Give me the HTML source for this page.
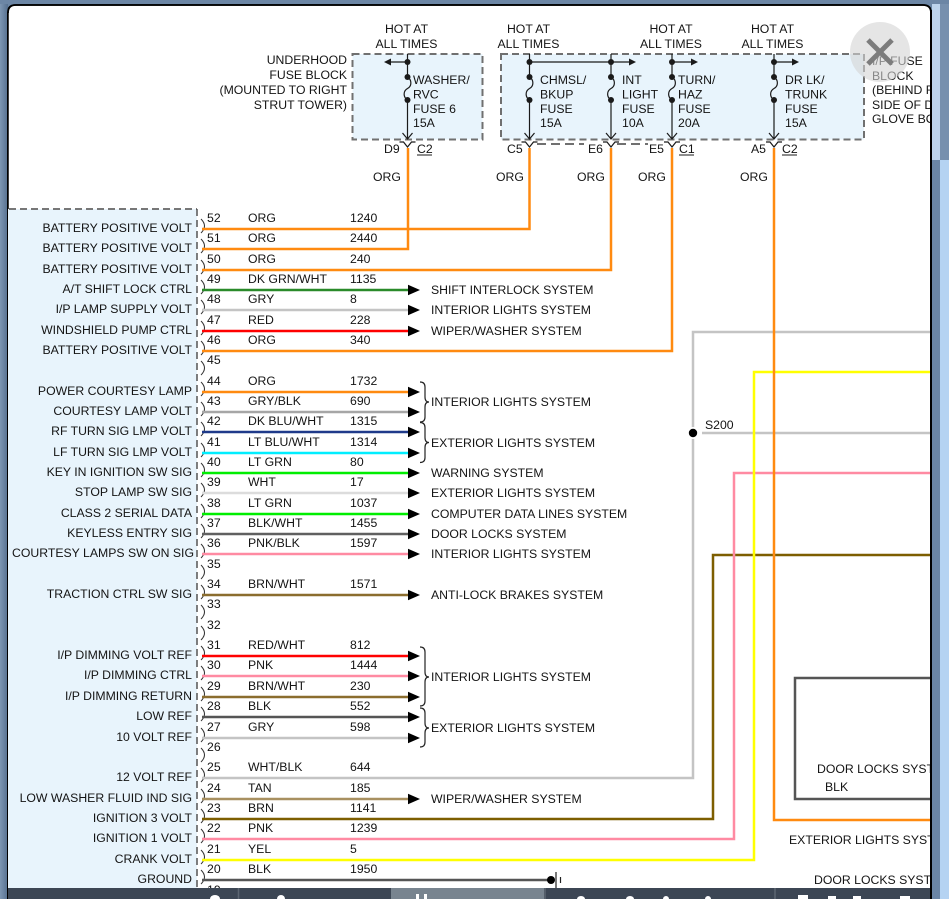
<!DOCTYPE html>
<html><head><meta charset="utf-8"><style>
html,body{margin:0;padding:0;background:#6c86a5;}
svg{display:block;}
text{font-family:"Liberation Sans",Arial,sans-serif;font-size:12.25px;fill:#141414;}
</style></head><body>
<svg width="949" height="899" viewBox="0 0 949 899" xmlns="http://www.w3.org/2000/svg">
<defs>
<linearGradient id="lf" x1="0" x2="1" y1="0" y2="0"><stop offset="0" stop-color="#7d96b3"/><stop offset="1" stop-color="#56708f"/></linearGradient>
</defs>
<rect width="949" height="899" fill="#6c86a5"/>
<rect x="0" y="0" width="8" height="899" fill="url(#lf)"/>
<path d="M8,12 Q8,5 15,5 L923,5 Q931,5 931,12 L931,899 L8,899 Z" fill="#ffffff" stroke="#000" stroke-width="1.5"/>

<!-- left connector box -->
<rect x="8" y="209" width="189" height="690" fill="#e8f4fc"/>
<line x1="9" y1="209" x2="197" y2="209" stroke="#777" stroke-width="2" stroke-dasharray="7 4"/>
<line x1="197" y1="209" x2="197" y2="899" stroke="#555" stroke-width="1.5" stroke-dasharray="7 4"/>

<!-- top fuse blocks -->
<rect x="352.5" y="54" width="130" height="85.5" fill="#e8f4fc" stroke="#707070" stroke-width="2" stroke-dasharray="7 4"/>
<rect x="501" y="54" width="363" height="85.5" fill="#e8f4fc" stroke="#707070" stroke-width="2" stroke-dasharray="7 4"/>

<text x="406.5" y="33" text-anchor="middle">HOT AT</text>
<text x="406.5" y="48" text-anchor="middle">ALL TIMES</text>
<text x="528.5" y="33" text-anchor="middle">HOT AT</text>
<text x="528.5" y="48" text-anchor="middle">ALL TIMES</text>
<text x="671" y="33" text-anchor="middle">HOT AT</text>
<text x="671" y="48" text-anchor="middle">ALL TIMES</text>
<text x="772.5" y="33" text-anchor="middle">HOT AT</text>
<text x="772.5" y="48" text-anchor="middle">ALL TIMES</text>

<text x="347" y="64" text-anchor="end">UNDERHOOD</text>
<text x="347" y="79" text-anchor="end">FUSE BLOCK</text>
<text x="347" y="94" text-anchor="end">(MOUNTED TO RIGHT</text>
<text x="347" y="109" text-anchor="end">STRUT TOWER)</text>

<text x="872" y="65">I/P FUSE</text>
<text x="872" y="80">BLOCK</text>
<text x="872" y="94">(BEHIND RIGHT</text>
<text x="872" y="109">SIDE OF DASH</text>
<text x="872" y="123">GLOVE BOX)</text>

<g stroke="#1a1a1a" stroke-width="1.2" fill="none">
<line x1="407.5" y1="54" x2="407.5" y2="77"/><line x1="407.5" y1="100" x2="407.5" y2="139"/>
<path d="M407.5,77 C412,80 412,86 407.5,88.5 C403,91 403,97 407.5,100"/>
<path d="M402.5,133 L407.5,139 L412.5,133"/>
<line x1="407.5" y1="62" x2="390" y2="62"/>
<path d="M399.5,142 L403.5,142 L407.5,147 L411.5,142 L415.5,142"/>

<line x1="529.5" y1="54" x2="529.5" y2="77"/><line x1="529.5" y1="100" x2="529.5" y2="139"/>
<path d="M529.5,77 C534,80 534,86 529.5,88.5 C525,91 525,97 529.5,100"/>
<path d="M524.5,133 L529.5,139 L534.5,133"/>
<path d="M521.5,142 L525.5,142 L529.5,147 L533.5,142 L537.5,142"/>

<line x1="611" y1="54" x2="611" y2="77"/><line x1="611" y1="100" x2="611" y2="139"/>
<path d="M611,77 C615.5,80 615.5,86 611,88.5 C606.5,91 606.5,97 611,100"/>
<path d="M606,133 L611,139 L616,133"/>
<path d="M603,142 L607,142 L611,147 L615,142 L619,142"/>

<line x1="672" y1="54" x2="672" y2="77"/><line x1="672" y1="100" x2="672" y2="139"/>
<path d="M672,77 C676.5,80 676.5,86 672,88.5 C667.5,91 667.5,97 672,100"/>
<path d="M667,133 L672,139 L677,133"/>
<path d="M664,142 L668,142 L672,147 L676,142 L680,142"/>

<line x1="774" y1="54" x2="774" y2="77"/><line x1="774" y1="100" x2="774" y2="139"/>
<path d="M774,77 C778.5,80 778.5,86 774,88.5 C769.5,91 769.5,97 774,100"/>
<path d="M769,133 L774,139 L779,133"/>
<path d="M766,142 L770,142 L774,147 L778,142 L782,142"/>

<line x1="529.5" y1="62" x2="630" y2="62"/>
<line x1="672" y1="62" x2="692" y2="62"/>
<line x1="774" y1="62" x2="793" y2="62"/>
<line x1="537" y1="144" x2="584" y2="144" stroke-dasharray="9 5"/>
<line x1="617" y1="144" x2="648" y2="144" stroke-dasharray="9 5"/>
</g>
<g fill="#1a1a1a">
<polygon points="384,62 391,58.5 391,65.5"/>
<polygon points="636,62 629,58.5 629,65.5"/>
<polygon points="698,62 691,58.5 691,65.5"/>
<polygon points="799,62 792,58.5 792,65.5"/>
<circle cx="407.5" cy="62" r="3"/><circle cx="407.5" cy="77" r="3"/><circle cx="407.5" cy="100" r="3"/>
<circle cx="529.5" cy="62" r="3"/><circle cx="529.5" cy="77" r="3"/><circle cx="529.5" cy="100" r="3"/>
<circle cx="611" cy="62" r="3"/><circle cx="611" cy="77" r="3"/><circle cx="611" cy="100" r="3"/>
<circle cx="672" cy="62" r="3"/><circle cx="672" cy="77" r="3"/><circle cx="672" cy="100" r="3"/>
<circle cx="774" cy="62" r="3"/><circle cx="774" cy="77" r="3"/><circle cx="774" cy="100" r="3"/>
</g>

<text x="413" y="84">WASHER/</text><text x="413" y="98.5">RVC</text><text x="413" y="113">FUSE 6</text><text x="413" y="127">15A</text>
<text x="540" y="84">CHMSL/</text><text x="540" y="98.5">BKUP</text><text x="540" y="113">FUSE</text><text x="540" y="127">15A</text>
<text x="622" y="84">INT</text><text x="622" y="98.5">LIGHT</text><text x="622" y="113">FUSE</text><text x="622" y="127">10A</text>
<text x="678" y="84">TURN/</text><text x="678" y="98.5">HAZ</text><text x="678" y="113">FUSE</text><text x="678" y="127">20A</text>
<text x="785" y="84">DR LK/</text><text x="785" y="98.5">TRUNK</text><text x="785" y="113">FUSE</text><text x="785" y="127">15A</text>

<text x="384" y="153">D9</text><text x="417" y="153">C2</text><line x1="417" y1="155" x2="432" y2="155" stroke="#1a1a1a" stroke-width="1"/>
<text x="507" y="153">C5</text>
<text x="588" y="153">E6</text>
<text x="649" y="153">E5</text><text x="679" y="153">C1</text><line x1="679" y1="155" x2="694" y2="155" stroke="#1a1a1a" stroke-width="1"/>
<text x="751" y="153">A5</text><text x="782" y="153">C2</text><line x1="782" y1="155" x2="797" y2="155" stroke="#1a1a1a" stroke-width="1"/>

<text x="373" y="181">ORG</text>
<text x="496" y="181">ORG</text>
<text x="577" y="181">ORG</text>
<text x="638" y="181">ORG</text>
<text x="740" y="181">ORG</text>

<g stroke="#333" stroke-width="1" fill="none">
<path d="M201,219 Q208,226 201,233"/><path d="M201,239 Q208,246 201,253"/><path d="M201,260 Q208,267 201,274"/>
<path d="M201,280 Q208,287 201,294"/><path d="M201,300 Q208,307 201,314"/><path d="M201,321 Q208,328 201,335"/>
<path d="M201,341 Q208,348 201,355"/><path d="M201,361 Q208,368 201,375"/><path d="M201,382 Q208,389 201,396"/>
<path d="M201,402 Q208,409 201,416"/><path d="M201,422 Q208,429 201,436"/><path d="M201,443 Q208,450 201,457"/>
<path d="M201,463 Q208,470 201,477"/><path d="M201,483 Q208,490 201,497"/><path d="M201,504 Q208,511 201,518"/>
<path d="M201,524 Q208,531 201,538"/><path d="M201,544 Q208,551 201,558"/><path d="M201,565 Q208,572 201,579"/>
<path d="M201,585 Q208,592 201,599"/><path d="M201,605 Q208,612 201,619"/><path d="M201,626 Q208,633 201,640"/>
<path d="M201,646 Q208,653 201,660"/><path d="M201,666 Q208,673 201,680"/><path d="M201,687 Q208,694 201,701"/>
<path d="M201,707 Q208,714 201,721"/><path d="M201,728 Q208,735 201,742"/><path d="M201,748 Q208,755 201,762"/>
<path d="M201,768 Q208,775 201,782"/><path d="M201,789 Q208,796 201,803"/><path d="M201,809 Q208,816 201,823"/>
<path d="M201,829 Q208,836 201,843"/><path d="M201,850 Q208,857 201,864"/><path d="M201,870 Q208,877 201,884"/>
</g>

<g text-anchor="end">
<text x="192" y="232">BATTERY POSITIVE VOLT</text>
<text x="192" y="252">BATTERY POSITIVE VOLT</text>
<text x="192" y="273">BATTERY POSITIVE VOLT</text>
<text x="192" y="293">A/T SHIFT LOCK CTRL</text>
<text x="192" y="313">I/P LAMP SUPPLY VOLT</text>
<text x="192" y="334">WINDSHIELD PUMP CTRL</text>
<text x="192" y="354">BATTERY POSITIVE VOLT</text>
<text x="192" y="395">POWER COURTESY LAMP</text>
<text x="192" y="415">COURTESY LAMP VOLT</text>
<text x="192" y="435">RF TURN SIG LMP VOLT</text>
<text x="192" y="456">LF TURN SIG LMP VOLT</text>
<text x="192" y="476">KEY IN IGNITION SW SIG</text>
<text x="192" y="496">STOP LAMP SW SIG</text>
<text x="192" y="517">CLASS 2 SERIAL DATA</text>
<text x="192" y="537">KEYLESS ENTRY SIG</text>
<text x="194" y="557">COURTESY LAMPS SW ON SIG</text>
<text x="192" y="598">TRACTION CTRL SW SIG</text>
<text x="192" y="659">I/P DIMMING VOLT REF</text>
<text x="192" y="679">I/P DIMMING CTRL</text>
<text x="192" y="700">I/P DIMMING RETURN</text>
<text x="192" y="720">LOW REF</text>
<text x="192" y="741">10 VOLT REF</text>
<text x="192" y="781">12 VOLT REF</text>
<text x="192" y="802">LOW WASHER FLUID IND SIG</text>
<text x="192" y="822">IGNITION 3 VOLT</text>
<text x="192" y="842">IGNITION 1 VOLT</text>
<text x="192" y="863">CRANK VOLT</text>
<text x="192" y="883">GROUND</text>
</g>

<text x="207" y="222">52</text><text x="248" y="222">ORG</text><text x="350" y="222">1240</text>
<text x="207" y="242">51</text><text x="248" y="242">ORG</text><text x="350" y="242">2440</text>
<text x="207" y="263">50</text><text x="248" y="263">ORG</text><text x="350" y="263">240</text>
<text x="207" y="283">49</text><text x="248" y="283">DK GRN/WHT</text><text x="350" y="283">1135</text>
<text x="207" y="303">48</text><text x="248" y="303">GRY</text><text x="350" y="303">8</text>
<text x="207" y="324">47</text><text x="248" y="324">RED</text><text x="350" y="324">228</text>
<text x="207" y="344">46</text><text x="248" y="344">ORG</text><text x="350" y="344">340</text>
<text x="207" y="364">45</text>
<text x="207" y="385">44</text><text x="248" y="385">ORG</text><text x="350" y="385">1732</text>
<text x="207" y="405">43</text><text x="248" y="405">GRY/BLK</text><text x="350" y="405">690</text>
<text x="207" y="425">42</text><text x="248" y="425">DK BLU/WHT</text><text x="350" y="425">1315</text>
<text x="207" y="446">41</text><text x="248" y="446">LT BLU/WHT</text><text x="350" y="446">1314</text>
<text x="207" y="466">40</text><text x="248" y="466">LT GRN</text><text x="350" y="466">80</text>
<text x="207" y="486">39</text><text x="248" y="486">WHT</text><text x="350" y="486">17</text>
<text x="207" y="507">38</text><text x="248" y="507">LT GRN</text><text x="350" y="507">1037</text>
<text x="207" y="527">37</text><text x="248" y="527">BLK/WHT</text><text x="350" y="527">1455</text>
<text x="207" y="547">36</text><text x="248" y="547">PNK/BLK</text><text x="350" y="547">1597</text>
<text x="207" y="568">35</text>
<text x="207" y="588">34</text><text x="248" y="588">BRN/WHT</text><text x="350" y="588">1571</text>
<text x="207" y="608">33</text>
<text x="207" y="629">32</text>
<text x="207" y="649">31</text><text x="248" y="649">RED/WHT</text><text x="350" y="649">812</text>
<text x="207" y="669">30</text><text x="248" y="669">PNK</text><text x="350" y="669">1444</text>
<text x="207" y="690">29</text><text x="248" y="690">BRN/WHT</text><text x="350" y="690">230</text>
<text x="207" y="710">28</text><text x="248" y="710">BLK</text><text x="350" y="710">552</text>
<text x="207" y="731">27</text><text x="248" y="731">GRY</text><text x="350" y="731">598</text>
<text x="207" y="751">26</text>
<text x="207" y="771">25</text><text x="248" y="771">WHT/BLK</text><text x="350" y="771">644</text>
<text x="207" y="792">24</text><text x="248" y="792">TAN</text><text x="350" y="792">185</text>
<text x="207" y="812">23</text><text x="248" y="812">BRN</text><text x="350" y="812">1141</text>
<text x="207" y="832">22</text><text x="248" y="832">PNK</text><text x="350" y="832">1239</text>
<text x="207" y="853">21</text><text x="248" y="853">YEL</text><text x="350" y="853">5</text>
<text x="207" y="873">20</text><text x="248" y="873">BLK</text><text x="350" y="873">1950</text>
<text x="207" y="894">19</text>

<g stroke-width="2.5" fill="none">
<line x1="202" y1="290" x2="409" y2="290" stroke="#2a8a2a"/>
<line x1="202" y1="310" x2="409" y2="310" stroke="#c4c4c4"/>
<line x1="202" y1="331" x2="409" y2="331" stroke="#ff0000"/>
<line x1="202" y1="392" x2="409" y2="392" stroke="#ff8a10"/>
<line x1="202" y1="412" x2="409" y2="412" stroke="#a6a6a6"/>
<line x1="202" y1="432" x2="409" y2="432" stroke="#1f3a8a"/>
<line x1="202" y1="453" x2="409" y2="453" stroke="#00eeff"/>
<line x1="202" y1="473" x2="409" y2="473" stroke="#00ee00"/>
<line x1="202" y1="493" x2="409" y2="493" stroke="#dcdcdc"/>
<line x1="202" y1="514" x2="409" y2="514" stroke="#00ee00"/>
<line x1="202" y1="534" x2="409" y2="534" stroke="#606060"/>
<line x1="202" y1="554" x2="409" y2="554" stroke="#ff8aa2"/>
<line x1="202" y1="595" x2="409" y2="595" stroke="#8b6d2e"/>
<line x1="202" y1="656" x2="409" y2="656" stroke="#ff0000"/>
<line x1="202" y1="676" x2="409" y2="676" stroke="#ff8aa2"/>
<line x1="202" y1="697" x2="409" y2="697" stroke="#8b6d2e"/>
<line x1="202" y1="717" x2="409" y2="717" stroke="#555555"/>
<line x1="202" y1="738" x2="409" y2="738" stroke="#c4c4c4"/>
<line x1="202" y1="799" x2="409" y2="799" stroke="#a89060"/>
<line x1="202" y1="880" x2="548" y2="880" stroke="#555555"/>
</g>
<g fill="#000">
<polygon points="408,284.7 420,290 408,295.3"/>
<polygon points="408,304.7 420,310 408,315.3"/>
<polygon points="408,325.7 420,331 408,336.3"/>
<polygon points="408,386.7 420,392 408,397.3"/>
<polygon points="408,406.7 420,412 408,417.3"/>
<polygon points="408,426.7 420,432 408,437.3"/>
<polygon points="408,447.7 420,453 408,458.3"/>
<polygon points="408,467.7 420,473 408,478.3"/>
<polygon points="408,487.7 420,493 408,498.3"/>
<polygon points="408,508.7 420,514 408,519.3"/>
<polygon points="408,528.7 420,534 408,539.3"/>
<polygon points="408,548.7 420,554 408,559.3"/>
<polygon points="408,589.7 420,595 408,600.3"/>
<polygon points="408,650.7 420,656 408,661.3"/>
<polygon points="408,670.7 420,676 408,681.3"/>
<polygon points="408,691.7 420,697 408,702.3"/>
<polygon points="408,711.7 420,717 408,722.3"/>
<polygon points="408,732.7 420,738 408,743.3"/>
<polygon points="408,793.7 420,799 408,804.3"/>
<circle cx="551" cy="880" r="4"/>
</g>
<g stroke="#222" stroke-width="1.2" fill="none">
<line x1="556" y1="872" x2="556" y2="889"/>
<line x1="560.5" y1="877" x2="560.5" y2="883"/>
<path d="M420,382 Q425,382 425,387 L425,397 Q425,402 429,402 Q425,402 425,407 L425,417 Q425,422 420,422"/>
<path d="M420,422.5 Q425,422.5 425,427.5 L425,437.5 Q425,442.5 429,442.5 Q425,442.5 425,447.5 L425,457.5 Q425,462.5 420,462.5"/>
<path d="M420,647 Q425,647 425,652 L425,672 Q425,677 429,677 Q425,677 425,682 L425,701 Q425,706 420,706"/>
<path d="M420,708 Q425,708 425,713 L425,723 Q425,728 429,728 Q425,728 425,733 L425,742 Q425,747 420,747"/>
</g>

<text x="431" y="294">SHIFT INTERLOCK SYSTEM</text>
<text x="431" y="314">INTERIOR LIGHTS SYSTEM</text>
<text x="431" y="335">WIPER/WASHER SYSTEM</text>
<text x="431" y="406">INTERIOR LIGHTS SYSTEM</text>
<text x="431" y="447">EXTERIOR LIGHTS SYSTEM</text>
<text x="431" y="477">WARNING SYSTEM</text>
<text x="431" y="497">EXTERIOR LIGHTS SYSTEM</text>
<text x="431" y="518">COMPUTER DATA LINES SYSTEM</text>
<text x="431" y="538">DOOR LOCKS SYSTEM</text>
<text x="431" y="558">INTERIOR LIGHTS SYSTEM</text>
<text x="431" y="599">ANTI-LOCK BRAKES SYSTEM</text>
<text x="431" y="681">INTERIOR LIGHTS SYSTEM</text>
<text x="431" y="732">EXTERIOR LIGHTS SYSTEM</text>
<text x="431" y="803">WIPER/WASHER SYSTEM</text>

<g stroke-width="2.5" fill="none" stroke-linejoin="miter">
<polyline points="202,351 672,351 672,148" stroke="#ff8a10"/>
<polyline points="202,270 611,270 611,148" stroke="#ff8a10"/>
<polyline points="202,249 408,249 408,148" stroke="#ff8a10"/>
<polyline points="202,229 529.5,229 529.5,148" stroke="#ff8a10"/>
<polyline points="202,778 693,778 693,332 935,332" stroke="#c4c4c4"/>
<line x1="702" y1="433" x2="935" y2="433" stroke="#c4c4c4"/>
<polyline points="202,819 713,819 713,555 935,555" stroke="#7d5e00"/>
<polyline points="202,839 734,839 734,473 935,473" stroke="#ff8aa2"/>
<polyline points="202,860 754,860 754,372 935,372" stroke="#ffff00"/>
<polyline points="774,148 774,820 935,820" stroke="#ff8a10"/>
</g>
<circle cx="693" cy="433" r="6" fill="#fff"/>
<circle cx="693" cy="433" r="4.2" fill="#000"/>
<text x="705" y="429">S200</text>

<rect x="795" y="678" width="200" height="121" fill="none" stroke="#555" stroke-width="2.5"/>
<text x="817" y="773">DOOR LOCKS SYSTEM</text>
<text x="825" y="791">BLK</text>
<text x="789" y="844">EXTERIOR LIGHTS SYSTEM</text>
<text x="814" y="884">DOOR LOCKS SYSTEM</text>

<circle cx="880" cy="52" r="30" fill="#d4d4d4" fill-opacity="0.6"/>
<g stroke="#7c7c7c" stroke-width="5" stroke-linecap="butt">
<line x1="868" y1="40" x2="892" y2="64"/><line x1="892" y1="40" x2="868" y2="64"/>
</g>

<rect x="8" y="888" width="923" height="11" fill="#3c4654"/>
<rect x="391" y="888" width="153" height="11" fill="#78848f"/>
<g stroke="#5c6672" stroke-width="1.5"><line x1="238.5" y1="888" x2="238.5" y2="899"/><line x1="545" y1="888" x2="545" y2="899"/><line x1="775" y1="888" x2="775" y2="899"/></g>
<g fill="#ffffff">
<ellipse cx="215" cy="899" rx="5" ry="4"/>
<ellipse cx="281" cy="899" rx="4" ry="4"/>
<rect x="416" y="894" width="3" height="5"/><rect x="424" y="894" width="3" height="5"/>
<ellipse cx="581" cy="899" rx="4" ry="3"/>
<ellipse cx="630" cy="899" rx="4" ry="3"/>
<ellipse cx="666" cy="899" rx="3" ry="3"/>
<ellipse cx="708" cy="899" rx="3" ry="3"/>
<rect x="798" y="895" width="10" height="4"/>
<rect x="828" y="896" width="8" height="3"/>
<rect x="853" y="896" width="8" height="3"/>
<rect x="900" y="896" width="10" height="3"/>
</g>

<rect x="931" y="0" width="18" height="899" fill="#6a85a5"/>
<rect x="940" y="160" width="9" height="739" fill="#b5d3f2"/>
<rect x="932" y="0" width="8" height="160" fill="#bcd3ec"/>
<rect x="940" y="0" width="9" height="160" fill="#7790ae"/>
<line x1="931" y1="10" x2="931" y2="899" stroke="#000" stroke-width="2"/>
<rect x="0" y="0" width="949" height="4" fill="#6c86a5"/>
<path d="M8,13 Q8,5 16,5 L923,5 Q931,5 931,13" fill="none" stroke="#000" stroke-width="1.8"/>
<line x1="7.5" y1="12" x2="7.5" y2="899" stroke="#000" stroke-width="1"/>
</svg>
</body></html>
